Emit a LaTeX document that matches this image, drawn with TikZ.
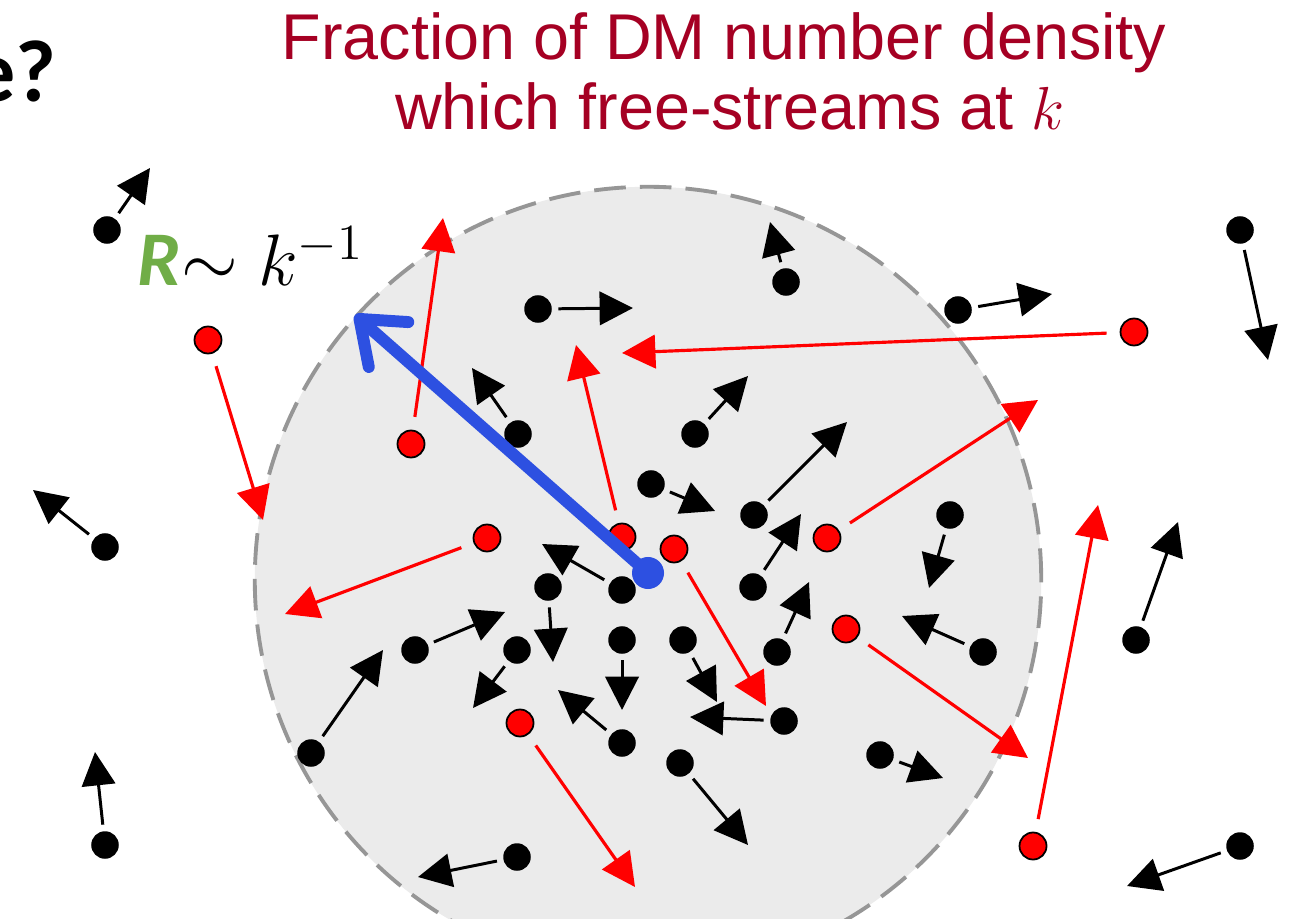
\documentclass[tikz,border=0pt]{standalone}
\usepackage{fontspec}
\newfontfamily\titlefont{Liberation Sans}
\newfontfamily\calfont{Carlito}
\usetikzlibrary{arrows.meta}
\definecolor{titlered}{RGB}{165,0,35}
\definecolor{rgreen}{RGB}{112,173,71}
\definecolor{rblue}{RGB}{45,80,225}
\definecolor{zonefill}{RGB}{235,235,235}
\definecolor{zoneedge}{RGB}{150,150,150}
\begin{document}
\begin{tikzpicture}[x=0.01cm,y=-0.01cm,
  bdot/.style={circle,fill=black,inner sep=0pt,minimum size=0.275cm},
  rdot/.style={circle,fill=red,draw=black,line width=0.5pt,inner sep=0pt,minimum size=0.27cm},
  barrow/.style={draw=black,line width=0.85pt,-{Triangle[length=9.5pt,width=9.5pt]},shorten <=0.06cm},
  rarrow/.style={draw=red,line width=0.9pt,-{Triangle[length=9.5pt,width=9.5pt]},shorten <=0.13cm},
  titletext/.style={anchor=base,inner sep=0pt,text=titlered,font=\titlefont\fontsize{18.4}{22}\selectfont},
]
\useasboundingbox (0,0) rectangle (1292,919);
\fill[white] (0,0) rectangle (1292,919);
% free-streaming region
\fill[zonefill] (648,580) circle[radius=3.93cm];
\draw[zoneedge,line width=1.1pt,dash pattern=on 9pt off 4pt] (648,580) circle[radius=3.93cm];
% titles
\node[titletext] (title1) at (724,60) {Fraction of DM number density};
\node[titletext] (title2) at (730,130) {which free-streams at $k$};
\node[anchor=base east,inner sep=0pt,font=\calfont\bfseries\fontsize{25}{29}\selectfont] (q) at (57,102) {e?};
% black particles
\foreach \n/\x/\y/\tx/\ty in {
 1/107/230/150/168, 2/105/547/33/490, 3/105/845/95/752, 4/538/309/633/308,
 5/786/282/770/222, 6/958/310/1052/294, 7/1240/230/1268/360, 8/518/434/472/368,
 9/695/434/748/376, 10/651/484/715/511, 11/754/515/847/422, 12/950/515/929/588,
 13/753/587/801/514, 14/777/652/809/582, 15/983/652/902/616, 16/1136/640/1178/522,
 17/548/587/553/662, 18/622/590/542/544, 19/415/650/505/612, 20/517/650/473/708,
 21/622/640/622/710, 22/683/640/717/702, 23/311/753/383/650, 24/622/743/558/690,
 25/784/721/690/717, 26/680/763/748/845, 27/880/755/943/778, 28/517/857/418/877,
 29/1240/846/1127/886}{
  \node[bdot] (b\n) at (\x,\y) {};
  \coordinate (bt\n) at (\tx,\ty);
  \draw[barrow] (b\n) -- (bt\n);
}
% red (free-streaming) particles
\foreach \n/\x/\y/\tx/\ty in {
 1/208/340/263/520, 2/411/444/443/218, 3/487/538/285/614, 4/622/537/576/345,
 5/674/549/766/706, 6/1134/332/622/353, 7/827/538/1038/400, 8/846/629/1028/758,
 9/520/723/635/887, 10/1033/846/1098/505}{
  \node[rdot] (r\n) at (\x,\y) {};
  \coordinate (rt\n) at (\tx,\ty);
  \draw[rarrow] (r\n) -- (rt\n);
}
% radius arrow
\node[circle,fill=rblue,inner sep=0pt,minimum size=0.32cm] (c) at (648,573) {};
\coordinate (ctip) at (355,315);
\draw[rblue,line width=3.4pt,line cap=round,-{Straight Barb[round,length=11pt,width=17pt]}] (c.center) -- (ctip);
\node[anchor=base west,inner sep=0pt,font=\fontsize{21}{25}\selectfont] (rlabel) at (137,286)
  {{\calfont\bfseries\itshape\fontsize{22}{26}\selectfont\color{rgreen}R}$\sim k^{-1}$};
\end{tikzpicture}
\end{document}
